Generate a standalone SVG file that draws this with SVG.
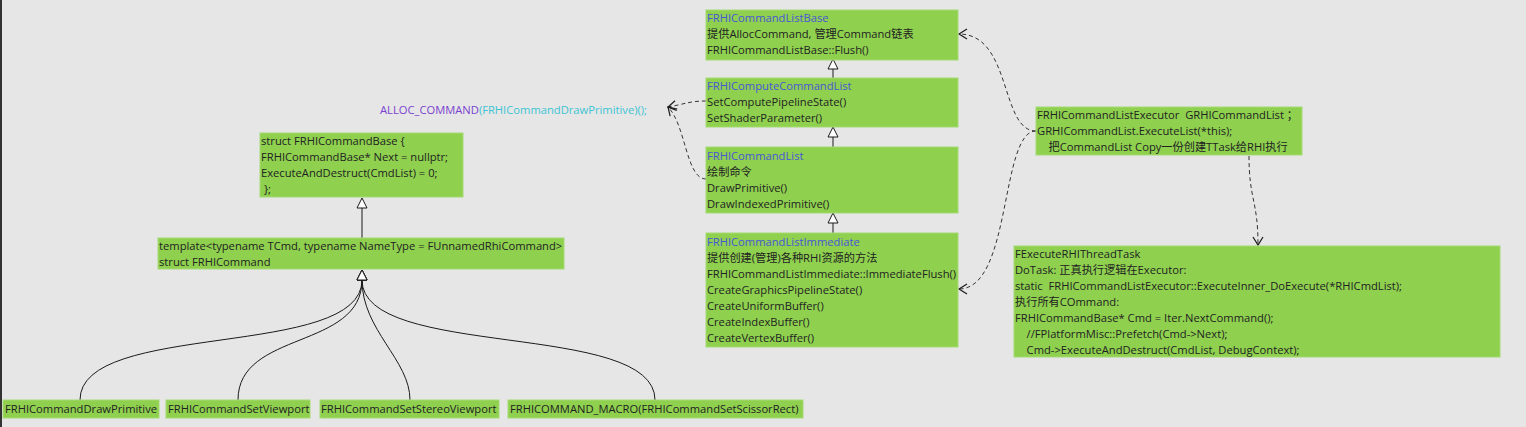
<svg xmlns="http://www.w3.org/2000/svg" width="1526" height="427" viewBox="0 0 1526 427">
<style>
.bg{fill:#e6e6e6}
.box{fill:#8fd14f;stroke:#a3da72;stroke-width:1}
text{font-family:"Open Sans","Noto Sans","Noto Sans CJK SC",sans-serif;font-size:11.2px;fill:#222}
.t{fill:#4a55d6}
.inh{fill:none;stroke:#1a1a1a;stroke-width:1}
.dash{fill:none;stroke:#333;stroke-width:1;stroke-dasharray:4 3}
</style>
<defs>
<marker id="tri" markerUnits="userSpaceOnUse" markerWidth="12" markerHeight="12" refX="0" refY="5" orient="auto" viewBox="-1 -1 12 12">
<path d="M0,0 L10,5 L0,10 Z" fill="#fff" stroke="#1a1a1a" stroke-width="1"/>
</marker>
<marker id="open" markerUnits="userSpaceOnUse" markerWidth="12" markerHeight="12" refX="9" refY="5" orient="auto" viewBox="-1 -1 12 12">
<path d="M1,0 L9,5 L1,10" fill="none" stroke="#1a1a1a" stroke-width="1.2"/>
</marker>
</defs>
<rect class="bg" x="0" y="0" width="1526" height="427"/>
<rect x="0" y="0" width="2" height="427" fill="#333"/>

<g id="connectors">
<path class="inh" d="M833,78 L833,69" marker-end="url(#tri)"/>
<path class="inh" d="M833,147 L833,137" marker-end="url(#tri)"/>
<path class="inh" d="M833,233 L833,223" marker-end="url(#tri)"/>
<path class="inh" d="M362,238 L362,208" marker-end="url(#tri)"/>
<path class="inh" d="M80,400 C80,320 362,360 362,280" marker-end="url(#tri)"/>
<path class="inh" d="M238,400 C238,330 362,350 362,280" marker-end="url(#tri)"/>
<path class="inh" d="M410,400 C410,360 362,330 362,280" marker-end="url(#tri)"/>
<path class="inh" d="M655,400 C655,320 362,360 362,280" marker-end="url(#tri)"/>
<path class="dash" d="M706,101 C690,101 685,104 668,107" marker-end="url(#open)"/>
<path class="dash" d="M706,179 C686,179 686,125 668,107" marker-end="url(#open)"/>
<path class="dash" d="M1036,131 C1000,131 1012,34 959,34" marker-end="url(#open)"/>
<path class="dash" d="M1036,131 C1000,131 1012,289 959,289" marker-end="url(#open)"/>
<path class="dash" d="M1249,156 C1249,200 1258,200 1258,245" marker-end="url(#open)"/>
</g>

<g id="FRHICommandListBase">
<rect class="box" x="706" y="10" width="252" height="50"/>
<text x="707" y="22" class="t">FRHICommandListBase</text>
<text x="707" y="38">提供AllocCommand, 管理Command链表</text>
<text x="707" y="54">FRHICommandListBase::Flush()</text>
</g>
<g id="FRHIComputeCommandList">
<rect class="box" x="706" y="78" width="252" height="49"/>
<text x="707" y="90" class="t">FRHIComputeCommandList</text>
<text x="707" y="106">SetComputePipelineState()</text>
<text x="707" y="122">SetShaderParameter()</text>
</g>
<g id="FRHICommandList">
<rect class="box" x="706" y="147" width="252" height="66"/>
<text x="707" y="160" class="t">FRHICommandList</text>
<text x="707" y="176">绘制命令</text>
<text x="707" y="192">DrawPrimitive()</text>
<text x="707" y="208">DrawIndexedPrimitive()</text>
</g>
<g id="FRHICommandListImmediate">
<rect class="box" x="706" y="233" width="252" height="114"/>
<text x="707" y="246" class="t">FRHICommandListImmediate</text>
<text x="707" y="262">提供创建(管理)各种RHI资源的方法</text>
<text x="707" y="278">FRHICommandListImmediate::ImmediateFlush()</text>
<text x="707" y="294">CreateGraphicsPipelineState()</text>
<text x="707" y="310">CreateUniformBuffer()</text>
<text x="707" y="326">CreateIndexBuffer()</text>
<text x="707" y="342">CreateVertexBuffer()</text>
</g>
<g id="alloc">
<text x="380" y="114"><tspan fill="#7a3fd0">ALLOC_COMMAND</tspan><tspan fill="#3cc4d4">(FRHICommandDrawPrimitive)();</tspan></text>
</g>
<g id="FRHICommandBase">
<rect class="box" x="260" y="133" width="203" height="64"/>
<text x="261" y="145">struct FRHICommandBase {</text>
<text x="261" y="161">FRHICommandBase* Next = nullptr;</text>
<text x="261" y="177">ExecuteAndDestruct(CmdList) = 0;</text>
<text x="261" y="193" xml:space="preserve"> };</text>
</g>
<g id="FRHICommand">
<rect class="box" x="158" y="238" width="406" height="31"/>
<text x="159" y="250">template&lt;typename TCmd, typename NameType = FUnnamedRhiCommand&gt;</text>
<text x="159" y="266">struct FRHICommand</text>
</g>
<g id="FRHICommandDrawPrimitive">
<rect class="box" x="3" y="400" width="156" height="18"/>
<text x="5" y="413">FRHICommandDrawPrimitive</text>
</g>
<g id="FRHICommandSetViewport">
<rect class="box" x="166" y="400" width="144" height="18"/>
<text x="168" y="413">FRHICommandSetViewport</text>
</g>
<g id="FRHICommandSetStereoViewport">
<rect class="box" x="320" y="400" width="179" height="18"/>
<text x="321" y="413">FRHICommandSetStereoViewport</text>
</g>
<g id="FRHICommandSetScissorRect">
<rect class="box" x="508" y="400" width="295" height="18"/>
<text x="510" y="413">FRHICOMMAND_MACRO(FRHICommandSetScissorRect)</text>
</g>
<g id="GRHICommandList">
<rect class="box" x="1036" y="107" width="266" height="48"/>
<text x="1037" y="119" xml:space="preserve">FRHICommandListExecutor  GRHICommandList ；</text>
<text x="1037" y="135">GRHICommandList.ExecuteList(*this);</text>
<text x="1037" y="151" xml:space="preserve">    把CommandList Copy一份创建TTask给RHI执行</text>
</g>
<g id="FExecuteRHIThreadTask">
<rect class="box" x="1014" y="246" width="486" height="111"/>
<text x="1015" y="258">FExecuteRHIThreadTask</text>
<text x="1015" y="274">DoTask: 正真执行逻辑在Executor:</text>
<text x="1015" y="290" xml:space="preserve">static  FRHICommandListExecutor::ExecuteInner_DoExecute(*RHICmdList);</text>
<text x="1015" y="306">执行所有COmmand:</text>
<text x="1015" y="322">FRHICommandBase* Cmd = Iter.NextCommand();</text>
<text x="1015" y="338" xml:space="preserve">    //FPlatformMisc::Prefetch(Cmd-&gt;Next);</text>
<text x="1015" y="354" xml:space="preserve">    Cmd-&gt;ExecuteAndDestruct(CmdList, DebugContext);</text>
</g>
</svg>
